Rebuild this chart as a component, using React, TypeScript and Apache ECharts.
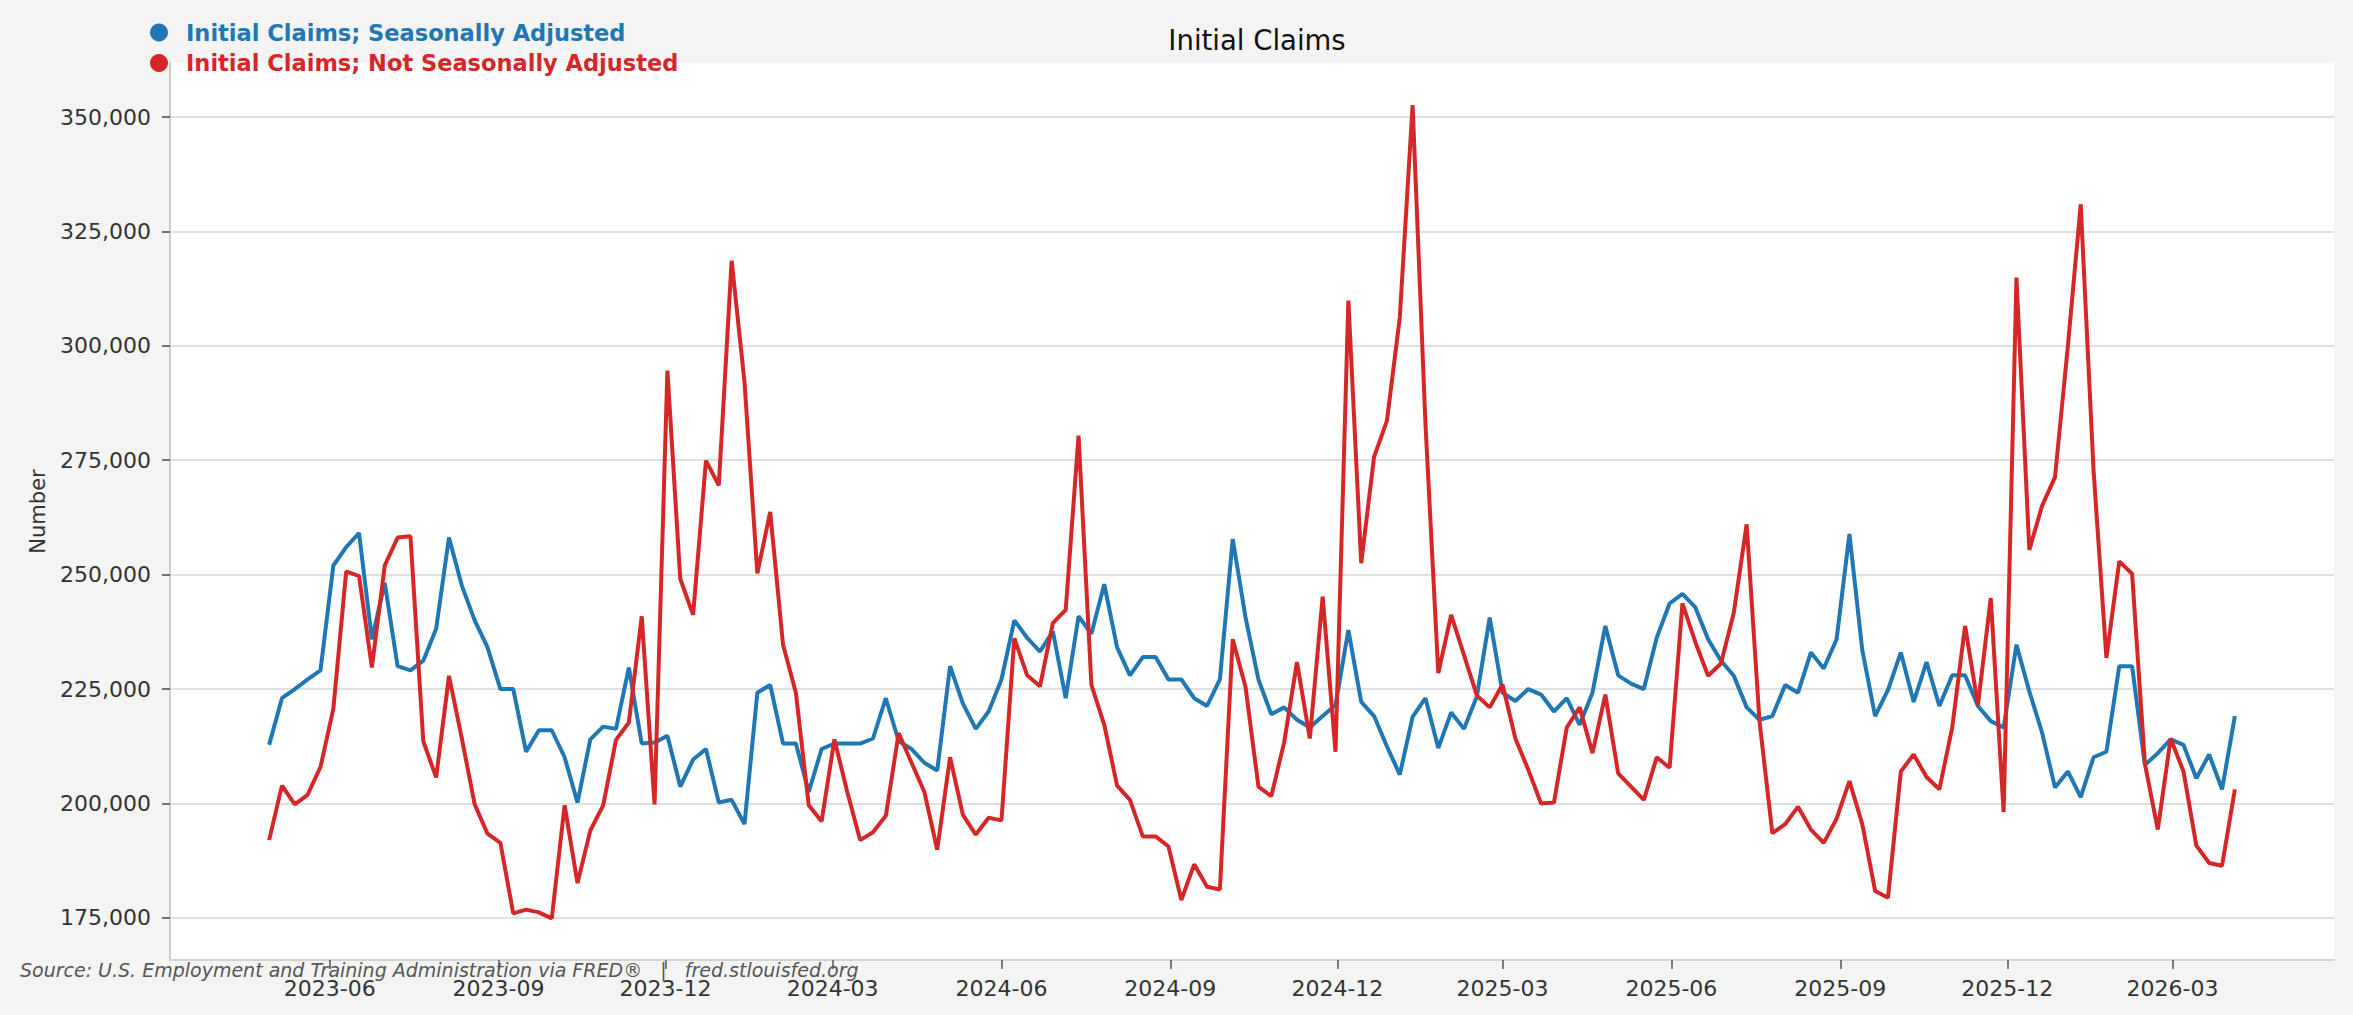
import React, { useEffect, useRef } from "react";
import * as echarts from "echarts";

// Weekly observations (week ending Saturday), first week ending 2023-04-29
const FIRST_WEEK = "2023-04-29";

const seasonallyAdjusted = [
  212800, 223000, 225000, 227100, 229100, 252000, 256000, 259100, 235900, 248200,
  230000, 229100, 231200, 238200, 258100, 247600, 240000, 234100, 225000, 225000,
  211300, 216000, 216000, 210100, 200200, 214000, 216800, 216300, 229700, 213100,
  213300, 214800, 203700, 209600, 211900, 200200, 200800, 195500, 224200, 225900,
  213100, 213100, 202500, 211900, 213100, 213100, 213100, 214200, 223000, 213600,
  211900, 208900, 207200, 230000, 221800, 216300, 220100, 227100, 240000, 236200,
  233200, 237600, 223000, 240900, 237100, 247900, 234100, 228000, 232000, 232000,
  227100, 227100, 223000, 221300, 227100, 257800, 240600, 227100, 219500, 221000,
  218300, 216600, 219100, 221500, 237900, 222200, 219100, 212500, 206300, 218900,
  223000, 212100, 219900, 216300, 223400, 240600, 224200, 222400, 225000, 223800,
  220100, 223000, 217200, 224200, 238800, 228000, 226200, 225000, 236200, 243700,
  245800, 242900, 235900, 231200, 227900, 221000, 218300, 219100, 225900, 224200,
  233000, 229500, 235900, 258900, 233500, 219100, 224800, 233000, 222200, 230900,
  221300, 228000, 228000, 221300, 218000, 216600, 234700, 224500, 215400, 203500,
  207000, 201400, 210100, 211300, 230000, 230000, 208400, 211000, 214000, 212800,
  205500, 210700, 203100, 219100,
];

const notSeasonallyAdjusted = [
  192000, 203900, 199800, 201900, 208000, 220700, 250700, 249700, 229700, 252000,
  258100, 258400, 213600, 205700, 227900, 214200, 199800, 193400, 191400, 176000,
  176800, 176200, 174900, 199600, 182600, 194100, 199600, 213900, 217700, 240900,
  199800, 294600, 249100, 241200, 274900, 269500, 318600, 292100, 250300, 263700,
  234700, 224200, 199600, 196100, 214000, 202500, 192000, 193700, 197300, 215400,
  208900, 202500, 189900, 210100, 197500, 193200, 196900, 196300, 236100, 228000,
  225600, 239400, 242300, 280400, 225900, 217200, 203900, 200800, 192800, 192800,
  190600, 178900, 186700, 181800, 181200, 235900, 225400, 203700, 201600, 213300,
  230900, 214200, 245200, 211300, 309900, 252500, 275700, 283600, 306100, 352600,
  283000, 228500, 241200, 232400, 223600, 221000, 226000, 214200, 207400, 200000,
  200200, 216600, 221000, 211000, 223800, 206600, 203700, 200800, 210100, 207800,
  243700, 235300, 227900, 230600, 241700, 261000, 218000, 193500, 195500, 199300,
  194300, 191400, 196700, 204900, 195500, 180900, 179400, 207000, 210700, 205800,
  203100, 216600, 238800, 221500, 244900, 198100, 314900, 255400, 265100, 271300,
  299900, 330900, 272800, 231800, 252900, 250200, 208600, 194300, 214200, 207000,
  190800, 187000, 186400, 203100,
];

const xTickMonths = [
  "2023-06-01", "2023-09-01", "2023-12-01", "2024-03-01", "2024-06-01", "2024-09-01",
  "2024-12-01", "2025-03-01", "2025-06-01", "2025-09-01", "2025-12-01", "2026-03-01",
];
const yTicks = [175000, 200000, 225000, 250000, 275000, 300000, 325000, 350000];

const X_MIN = "2023-03-06";
const X_MAX = "2026-05-28";
const Y_MIN = 165800;
const Y_MAX = 361800;

const SERIES_SA = "Initial Claims; Seasonally Adjusted";
const SERIES_NSA = "Initial Claims; Not Seasonally Adjusted";
const BLUE = "#1f77b4";
const RED = "#d62728";
const FONT = "DejaVu Sans";

const DAY = 86400000;
const toTs = (s: string) => Date.parse(s + "T00:00:00Z");
const weekTs = (i: number) => toTs(FIRST_WEEK) + i * 7 * DAY;

const fmtMonth = (v: number) => {
  const d = new Date(v);
  const m = d.getUTCMonth() + 1;
  return `${d.getUTCFullYear()}-${m < 10 ? "0" + m : m}`;
};

export default function App() {
  const ref = useRef<HTMLDivElement>(null);

  useEffect(() => {
    if (!ref.current) return;
    const chart = echarts.init(ref.current, undefined, { renderer: "svg" });
    const tickTs = xTickMonths.map(toTs);

    chart.setOption({
      animation: false,
      backgroundColor: "#f4f4f4",
      textStyle: { fontFamily: FONT },
      title: [
        {
          text: "Initial Claims",
          left: 1252,
          top: 21,
          textAlign: "center",
          textStyle: { fontSize: 27.5, fontWeight: "normal", color: "#111", fontFamily: FONT },
        },
        {
          text: "Source: U.S. Employment and Training Administration via FRED\u00AE   |   fred.stlouisfed.org",
          left: 15,
          top: 955,
          textStyle: {
            fontSize: 19,
            fontStyle: "italic",
            fontWeight: "normal",
            color: "#555",
            fontFamily: FONT,
          },
        },
      ],
      legend: {
        orient: "vertical",
        left: 145,
        top: 16,
        icon: "circle",
        itemWidth: 44,
        itemHeight: 18,
        itemGap: 7.5,
        selectedMode: false,
        data: [
          { name: SERIES_SA, textStyle: { color: BLUE } },
          { name: SERIES_NSA, textStyle: { color: RED } },
        ],
        textStyle: { fontSize: 22.5, fontWeight: "bold", fontFamily: FONT },
      },
      grid: {
        left: 170,
        right: 19,
        top: 63,
        bottom: 55,
        show: true,
        backgroundColor: "#ffffff",
        borderWidth: 0,
      },
      xAxis: {
        type: "value",
        min: toTs(X_MIN),
        max: toTs(X_MAX),
        axisLine: { show: true, lineStyle: { color: "#d4d4d4", width: 2 } },
        axisTick: {
          show: true,
          customValues: tickTs,
          length: 9,
          lineStyle: { color: "#555", width: 1.5 },
        },
        axisLabel: {
          customValues: tickTs,
          formatter: (v: number) => fmtMonth(v),
          fontSize: 22,
          color: "#333",
          margin: 17,
          fontFamily: FONT,
        },
        splitLine: { show: false },
      },
      yAxis: {
        type: "value",
        min: Y_MIN,
        max: Y_MAX,
        name: "Number",
        nameLocation: "middle",
        nameRotate: 90,
        nameGap: 122,
        nameTextStyle: { fontSize: 21, color: "#333", fontFamily: FONT },
        axisLine: { show: true, lineStyle: { color: "#cccccc", width: 2 } },
        axisTick: {
          show: true,
          customValues: yTicks,
          length: 8,
          lineStyle: { color: "#444", width: 1.5 },
        },
        axisLabel: {
          customValues: yTicks,
          formatter: (v: number) => v.toLocaleString("en-US"),
          fontSize: 22,
          color: "#333",
          margin: 19,
          fontFamily: FONT,
        },
        splitLine: { show: true, lineStyle: { color: "#d6d6d6", width: 1.5 } },
      },
      series: [
        {
          name: SERIES_SA,
          type: "line",
          data: seasonallyAdjusted.map((v, i) => [weekTs(i), v]),
          symbol: "none",
          color: BLUE,
          lineStyle: { color: BLUE, width: 4 },
        },
        {
          name: SERIES_NSA,
          type: "line",
          data: notSeasonallyAdjusted.map((v, i) => [weekTs(i), v]),
          symbol: "none",
          color: RED,
          lineStyle: { color: RED, width: 4 },
        },
      ],
    });

    return () => chart.dispose();
  }, []);

  return (
    <div
      ref={ref}
      style={{ position: "fixed", left: 0, top: 0, width: 2353, height: 1015 }}
    />
  );
}
